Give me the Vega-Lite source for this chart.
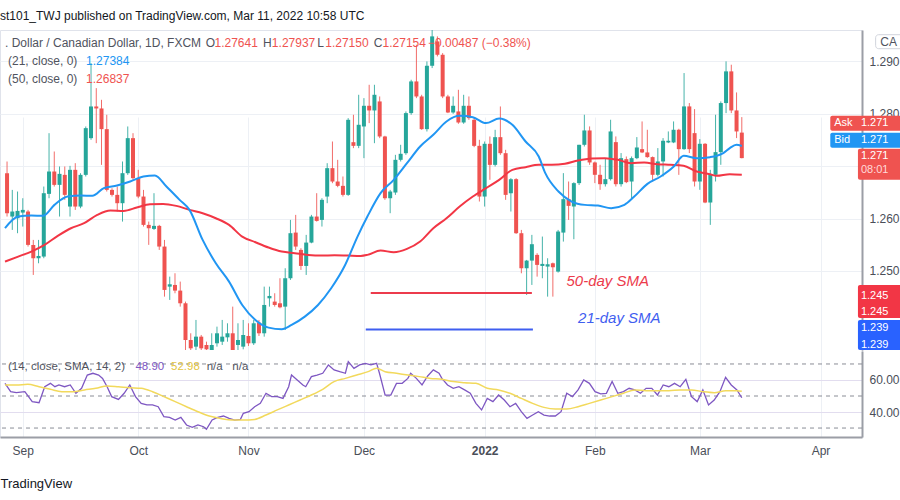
{
"$schema": "https://vega.github.io/schema/vega-lite/v6.json",
"width": 862, "height": 407,
"autosize": {"type": "none"},
"padding": {"left": 0, "top": 30, "right": 38, "bottom": 63},
"background": "white",
"title": {"text": "st101_TWJ published on TradingView.com, Mar 11, 2022 10:58 UTC", "anchor": "start", "frame": "group", "offset": 7, "fontSize": 12, "fontWeight": "normal", "color": "#131722", "font": "Liberation Sans"},
"config": {"font": "Liberation Sans", "view": {"stroke": "#e0e3eb"}},
"datasets": {
"candles": [
{"i":-3,"o":1.26866,"h":1.27089,"l":1.26038,"c":1.26102},
{"i":-2,"o":1.26038,"h":1.26547,"l":1.25783,"c":1.26134},
{"i":-1,"o":1.26006,"h":1.26516,"l":1.2572,"c":1.26146},
{"i":0,"o":1.26114,"h":1.26388,"l":1.25847,"c":1.26165},
{"i":1,"o":1.26134,"h":1.26165,"l":1.25465,"c":1.25497},
{"i":2,"o":1.25497,"h":1.25592,"l":1.24923,"c":1.25242},
{"i":3,"o":1.25242,"h":1.25592,"l":1.25146,"c":1.25286},
{"i":4,"o":1.25274,"h":1.26611,"l":1.25242,"c":1.26484},
{"i":5,"o":1.26471,"h":1.2763,"l":1.26388,"c":1.26898},
{"i":6,"o":1.26898,"h":1.2728,"l":1.26611,"c":1.26643},
{"i":7,"o":1.26643,"h":1.26994,"l":1.26038,"c":1.26853},
{"i":8,"o":1.26834,"h":1.26994,"l":1.26357,"c":1.26452},
{"i":9,"o":1.26229,"h":1.27006,"l":1.26038,"c":1.2693},
{"i":10,"o":1.2693,"h":1.27057,"l":1.26165,"c":1.26229},
{"i":11,"o":1.26229,"h":1.26866,"l":1.26197,"c":1.26834},
{"i":12,"o":1.26834,"h":1.27758,"l":1.26803,"c":1.27726},
{"i":13,"o":1.27535,"h":1.28968,"l":1.27503,"c":1.2814},
{"i":14,"o":1.2814,"h":1.2849,"l":1.27439,"c":1.28102},
{"i":15,"o":1.28102,"h":1.28267,"l":1.27025,"c":1.27707},
{"i":16,"o":1.27707,"h":1.27981,"l":1.26516,"c":1.26547},
{"i":17,"o":1.26547,"h":1.26579,"l":1.2642,"c":1.26452},
{"i":18,"o":1.26452,"h":1.26611,"l":1.26134,"c":1.26293},
{"i":19,"o":1.26293,"h":1.27089,"l":1.25942,"c":1.26866},
{"i":20,"o":1.26866,"h":1.27758,"l":1.26834,"c":1.27535},
{"i":21,"o":1.27535,"h":1.2763,"l":1.26739,"c":1.26771},
{"i":22,"o":1.26771,"h":1.2693,"l":1.26388,"c":1.2642},
{"i":23,"o":1.2642,"h":1.26547,"l":1.25847,"c":1.25879},
{"i":24,"o":1.25879,"h":1.25942,"l":1.25497,"c":1.25815},
{"i":25,"o":1.25802,"h":1.26484,"l":1.25783,"c":1.2586},
{"i":26,"o":1.2586,"h":1.25879,"l":1.25401,"c":1.25465},
{"i":27,"o":1.25465,"h":1.25592,"l":1.24509,"c":1.24637},
{"i":28,"o":1.247,"h":1.24891,"l":1.24446,"c":1.24745},
{"i":29,"o":1.24732,"h":1.24955,"l":1.24573,"c":1.24624},
{"i":30,"o":1.24624,"h":1.24796,"l":1.24318,"c":1.24382},
{"i":31,"o":1.24382,"h":1.24414,"l":1.2349,"c":1.23681},
{"i":32,"o":1.23681,"h":1.23809,"l":1.23427,"c":1.23522},
{"i":33,"o":1.23554,"h":1.24064,"l":1.23458,"c":1.23745},
{"i":34,"o":1.23745,"h":1.23777,"l":1.23395,"c":1.23522},
{"i":35,"o":1.23586,"h":1.23649,"l":1.23363,"c":1.23503},
{"i":36,"o":1.2349,"h":1.23809,"l":1.23331,"c":1.23586},
{"i":37,"o":1.23618,"h":1.23936,"l":1.23554,"c":1.23809},
{"i":38,"o":1.23649,"h":1.24064,"l":1.23586,"c":1.23745},
{"i":39,"o":1.23732,"h":1.24,"l":1.23649,"c":1.23809},
{"i":40,"o":1.23809,"h":1.24318,"l":1.23427,"c":1.2349},
{"i":41,"o":1.23586,"h":1.24,"l":1.23458,"c":1.23681},
{"i":42,"o":1.23554,"h":1.24064,"l":1.23503,"c":1.23777},
{"i":43,"o":1.23758,"h":1.24,"l":1.23567,"c":1.23618},
{"i":44,"o":1.23618,"h":1.24064,"l":1.23586,"c":1.24},
{"i":45,"o":1.24012,"h":1.24064,"l":1.23758,"c":1.23809},
{"i":46,"o":1.23809,"h":1.247,"l":1.23745,"c":1.2435},
{"i":47,"o":1.24477,"h":1.247,"l":1.24318,"c":1.24522},
{"i":48,"o":1.24414,"h":1.24573,"l":1.24318,"c":1.2435},
{"i":49,"o":1.24382,"h":1.2486,"l":1.24286,"c":1.24305},
{"i":50,"o":1.24318,"h":1.25051,"l":1.23872,"c":1.2486},
{"i":51,"o":1.2486,"h":1.25974,"l":1.24828,"c":1.2572},
{"i":52,"o":1.25732,"h":1.2607,"l":1.25401,"c":1.25465},
{"i":53,"o":1.25401,"h":1.25433,"l":1.25019,"c":1.25095},
{"i":54,"o":1.25095,"h":1.25688,"l":1.24923,"c":1.25541},
{"i":55,"o":1.25541,"h":1.2607,"l":1.25528,"c":1.26038},
{"i":56,"o":1.26038,"h":1.26484,"l":1.25942,"c":1.25955},
{"i":57,"o":1.25974,"h":1.26388,"l":1.25847,"c":1.26357},
{"i":58,"o":1.2642,"h":1.27057,"l":1.26293,"c":1.26962},
{"i":59,"o":1.26962,"h":1.27471,"l":1.26675,"c":1.26707},
{"i":60,"o":1.26707,"h":1.27121,"l":1.26598,"c":1.26624},
{"i":61,"o":1.26624,"h":1.26803,"l":1.2642,"c":1.26452},
{"i":62,"o":1.26452,"h":1.27917,"l":1.26433,"c":1.27885},
{"i":63,"o":1.27458,"h":1.27981,"l":1.27344,"c":1.27388},
{"i":64,"o":1.27388,"h":1.28363,"l":1.27344,"c":1.2779},
{"i":65,"o":1.27758,"h":1.28299,"l":1.27153,"c":1.28153},
{"i":66,"o":1.28153,"h":1.28554,"l":1.27822,"c":1.28064},
{"i":67,"o":1.28064,"h":1.28554,"l":1.27439,"c":1.28363},
{"i":68,"o":1.28236,"h":1.28331,"l":1.27535,"c":1.27567},
{"i":69,"o":1.27567,"h":1.2758,"l":1.26357,"c":1.26388},
{"i":70,"o":1.26388,"h":1.26547,"l":1.26102,"c":1.26516},
{"i":71,"o":1.26497,"h":1.27216,"l":1.26452,"c":1.27121},
{"i":72,"o":1.27121,"h":1.27408,"l":1.27089,"c":1.27236},
{"i":73,"o":1.27248,"h":1.28045,"l":1.27216,"c":1.28013},
{"i":74,"o":1.28013,"h":1.2865,"l":1.27981,"c":1.28618},
{"i":75,"o":1.28618,"h":1.29318,"l":1.28299,"c":1.28331},
{"i":76,"o":1.28331,"h":1.28363,"l":1.27694,"c":1.27707},
{"i":77,"o":1.27707,"h":1.29,"l":1.27662,"c":1.28917},
{"i":78,"o":1.28917,"h":1.29605,"l":1.28873,"c":1.29478},
{"i":79,"o":1.29382,"h":1.29478,"l":1.29096,"c":1.29127},
{"i":80,"o":1.29127,"h":1.29159,"l":1.28299,"c":1.28331},
{"i":81,"o":1.28331,"h":1.28363,"l":1.28013,"c":1.28025},
{"i":82,"o":1.28025,"h":1.28331,"l":1.28,"c":1.28153},
{"i":83,"o":1.28045,"h":1.28458,"l":1.27809,"c":1.27834},
{"i":84,"o":1.27834,"h":1.28363,"l":1.27809,"c":1.28153},
{"i":85,"o":1.28153,"h":1.28331,"l":1.27885,"c":1.27917},
{"i":86,"o":1.27885,"h":1.27917,"l":1.27363,"c":1.27388},
{"i":87,"o":1.27388,"h":1.27503,"l":1.26325,"c":1.2642},
{"i":88,"o":1.2642,"h":1.27471,"l":1.26229,"c":1.27427},
{"i":89,"o":1.27427,"h":1.27567,"l":1.26739,"c":1.27025},
{"i":90,"o":1.27025,"h":1.27694,"l":1.26994,"c":1.27554},
{"i":91,"o":1.27554,"h":1.2814,"l":1.27216,"c":1.27248},
{"i":92,"o":1.27248,"h":1.27312,"l":1.26357,"c":1.26452},
{"i":93,"o":1.26484,"h":1.26771,"l":1.26134,"c":1.26752},
{"i":94,"o":1.26752,"h":1.26771,"l":1.25707,"c":1.2572},
{"i":95,"o":1.2572,"h":1.25783,"l":1.24955,"c":1.25051},
{"i":96,"o":1.25051,"h":1.2521,"l":1.24541,"c":1.25197},
{"i":97,"o":1.25197,"h":1.25688,"l":1.24732,"c":1.2551},
{"i":98,"o":1.25306,"h":1.25338,"l":1.24891,"c":1.25115},
{"i":99,"o":1.25095,"h":1.25656,"l":1.2486,"c":1.25134},
{"i":100,"o":1.25083,"h":1.25242,"l":1.24509,"c":1.25127},
{"i":101,"o":1.25146,"h":1.25159,"l":1.24509,"c":1.2507},
{"i":102,"o":1.24987,"h":1.25783,"l":1.24968,"c":1.25752},
{"i":103,"o":1.25732,"h":1.26867,"l":1.2556,"c":1.2637},
{"i":104,"o":1.2637,"h":1.26707,"l":1.25974,"c":1.26242},
{"i":105,"o":1.2623,"h":1.26693,"l":1.25605,"c":1.26676},
{"i":106,"o":1.26676,"h":1.27408,"l":1.2664,"c":1.27408},
{"i":107,"o":1.27408,"h":1.27982,"l":1.27376,"c":1.27682},
{"i":108,"o":1.27682,"h":1.27759,"l":1.27025,"c":1.27071},
{"i":109,"o":1.27071,"h":1.27089,"l":1.26676,"c":1.26835},
{"i":110,"o":1.26835,"h":1.27026,"l":1.26548,"c":1.26656},
{"i":111,"o":1.26656,"h":1.27153,"l":1.26611,"c":1.26752},
{"i":112,"o":1.26752,"h":1.27886,"l":1.26726,"c":1.27663},
{"i":113,"o":1.27459,"h":1.27568,"l":1.26612,"c":1.26656},
{"i":114,"o":1.26656,"h":1.2725,"l":1.2661,"c":1.27153},
{"i":115,"o":1.27134,"h":1.27185,"l":1.26676,"c":1.26695},
{"i":116,"o":1.26707,"h":1.27185,"l":1.26389,"c":1.27153},
{"i":117,"o":1.27153,"h":1.27555,"l":1.27134,"c":1.27357},
{"i":118,"o":1.27325,"h":1.27854,"l":1.2725,"c":1.27262},
{"i":119,"o":1.27262,"h":1.27695,"l":1.2716,"c":1.27173},
{"i":120,"o":1.27173,"h":1.27185,"l":1.26707,"c":1.26835},
{"i":121,"o":1.26835,"h":1.27345,"l":1.26803,"c":1.2709},
{"i":122,"o":1.2709,"h":1.27536,"l":1.26803,"c":1.27485},
{"i":123,"o":1.27453,"h":1.27663,"l":1.2744,"c":1.27485},
{"i":124,"o":1.27453,"h":1.27854,"l":1.2744,"c":1.27695},
{"i":125,"o":1.27695,"h":1.27714,"l":1.26834,"c":1.27325},
{"i":126,"o":1.27325,"h":1.28778,"l":1.27312,"c":1.28141},
{"i":127,"o":1.28141,"h":1.28205,"l":1.2725,"c":1.27325},
{"i":128,"o":1.27631,"h":1.2809,"l":1.26612,"c":1.26707},
{"i":129,"o":1.26707,"h":1.27517,"l":1.26548,"c":1.27427},
{"i":130,"o":1.27427,"h":1.2744,"l":1.26293,"c":1.26306},
{"i":131,"o":1.26306,"h":1.2693,"l":1.25879,"c":1.26835},
{"i":132,"o":1.26835,"h":1.27982,"l":1.26707,"c":1.27268},
{"i":133,"o":1.27268,"h":1.28236,"l":1.27026,"c":1.28205},
{"i":134,"o":1.28205,"h":1.29001,"l":1.28013,"c":1.2881},
{"i":135,"o":1.2881,"h":1.28937,"l":1.28013,"c":1.28064},
{"i":136,"o":1.28064,"h":1.28408,"l":1.27536,"c":1.27663},
{"i":137,"o":1.27641,"h":1.27937,"l":1.2715,"c":1.27154}
],
"sma21": [
{"i":-3.39,"v":1.25815},{"i":-0.88,"v":1.26038},{"i":1.63,"v":1.26057},{"i":3.83,"v":1.26051},{"i":6.03,"v":1.26261},{"i":8.54,"v":1.2642},{"i":11.05,"v":1.26439},{"i":13.25,"v":1.26433},{"i":15.44,"v":1.2658},{"i":17.95,"v":1.26631},{"i":20.46,"v":1.26707},{"i":22.98,"v":1.26803},{"i":25.17,"v":1.26822},{"i":27.37,"v":1.26611},{"i":29.88,"v":1.26357},{"i":31.76,"v":1.26166},{"i":34.27,"v":1.25592},{"i":36.78,"v":1.25146},{"i":39.3,"v":1.24796},{"i":41.81,"v":1.2435},{"i":44.32,"v":1.24064},{"i":46.83,"v":1.23917},{"i":49.34,"v":1.23885},{"i":51.22,"v":1.23968},{"i":53.73,"v":1.24127},{"i":56.25,"v":1.2435},{"i":58.76,"v":1.24669},{"i":61.27,"v":1.25083},{"i":63.78,"v":1.25656},{"i":65.66,"v":1.26038},{"i":68.17,"v":1.26484},{"i":70.68,"v":1.26739},{"i":73.2,"v":1.27057},{"i":75.71,"v":1.27376},{"i":78.22,"v":1.27599},{"i":80.73,"v":1.27854},{"i":83.24,"v":1.27962},{"i":85.75,"v":1.27936},{"i":88.26,"v":1.27822},{"i":90.77,"v":1.27911},{"i":93.28,"v":1.2779},{"i":95.8,"v":1.27471},{"i":98.31,"v":1.27185},{"i":99.56,"v":1.26866},{"i":102.07,"v":1.26516},{"i":104.58,"v":1.26325},{"i":107.09,"v":1.26261},{"i":109.6,"v":1.26248},{"i":112.11,"v":1.26197},{"i":114.63,"v":1.26261},{"i":116.51,"v":1.2642},{"i":119.02,"v":1.26662},{"i":121.53,"v":1.26803},{"i":124.04,"v":1.26994},{"i":125.93,"v":1.27197},{"i":128.44,"v":1.27153},{"i":130.94,"v":1.27172},{"i":132.2,"v":1.27197},{"i":133.46,"v":1.27248},{"i":134.71,"v":1.27344},{"i":135.97,"v":1.27408},{"i":137,"v":1.27384}
],
"sma50": [
{"i":-3.39,"v":1.25178},{"i":-0.88,"v":1.25274},{"i":1.63,"v":1.25369},{"i":4.14,"v":1.25497},{"i":6.66,"v":1.25669},{"i":9.17,"v":1.25815},{"i":11.68,"v":1.25911},{"i":14.19,"v":1.2607},{"i":16.7,"v":1.26153},{"i":19.21,"v":1.26146},{"i":21.72,"v":1.2621},{"i":24.23,"v":1.26274},{"i":26.74,"v":1.2628},{"i":29.25,"v":1.26242},{"i":31.76,"v":1.26166},{"i":34.27,"v":1.26102},{"i":36.78,"v":1.26006},{"i":39.3,"v":1.25879},{"i":41.81,"v":1.25656},{"i":44.32,"v":1.25548},{"i":46.83,"v":1.25446},{"i":49.34,"v":1.25369},{"i":51.85,"v":1.25338},{"i":54.36,"v":1.25306},{"i":56.87,"v":1.25293},{"i":59.39,"v":1.25299},{"i":61.9,"v":1.25293},{"i":64.41,"v":1.25287},{"i":65.66,"v":1.25306},{"i":68.17,"v":1.25389},{"i":70.68,"v":1.25357},{"i":73.2,"v":1.2542},{"i":75.71,"v":1.25561},{"i":78.22,"v":1.25815},{"i":80.73,"v":1.26006},{"i":83.24,"v":1.26229},{"i":85.75,"v":1.2642},{"i":88.26,"v":1.2658},{"i":90.77,"v":1.26739},{"i":93.28,"v":1.2693},{"i":95.8,"v":1.26981},{"i":98.31,"v":1.27025},{"i":100.8,"v":1.27025},{"i":103.3,"v":1.27045},{"i":105.8,"v":1.27108},{"i":108.4,"v":1.27146},{"i":110.9,"v":1.27153},{"i":113.4,"v":1.27121},{"i":115.9,"v":1.27057},{"i":118.4,"v":1.2707},{"i":120.9,"v":1.27038},{"i":123.4,"v":1.27025},{"i":125.9,"v":1.27006},{"i":128.4,"v":1.26898},{"i":130.9,"v":1.26847},{"i":132.2,"v":1.26815},{"i":134.7,"v":1.26847},{"i":137,"v":1.26837}
],
"rsi": [
{"i":-3.39,"v":57.9},{"i":-2.31,"v":52.7},{"i":-1.23,"v":52.1},{"i":0.39,"v":52.7},{"i":1.8,"v":46.5},{"i":3.1,"v":45.8},{"i":4.18,"v":55.8},{"i":5.26,"v":57.9},{"i":6.12,"v":55.8},{"i":6.88,"v":56.9},{"i":7.96,"v":55.8},{"i":9.04,"v":56.9},{"i":10.12,"v":51.7},{"i":11.2,"v":54.8},{"i":12.29,"v":63.1},{"i":13.37,"v":64.2},{"i":14.45,"v":63.1},{"i":15.2,"v":61.0},{"i":16.07,"v":55.8},{"i":16.93,"v":49.6},{"i":18.23,"v":47.9},{"i":19.31,"v":51.7},{"i":20.39,"v":56.9},{"i":21.47,"v":49.6},{"i":22.56,"v":45.4},{"i":23.64,"v":44.4},{"i":24.72,"v":44.4},{"i":25.8,"v":43.3},{"i":26.88,"v":37.1},{"i":27.96,"v":36.7},{"i":29.04,"v":35.0},{"i":30.12,"v":36.7},{"i":31.2,"v":31.9},{"i":32.29,"v":30.4},{"i":33.37,"v":31.9},{"i":34.45,"v":30.8},{"i":34.99,"v":29.2},{"i":36.07,"v":35.0},{"i":37.15,"v":36.7},{"i":38.23,"v":37.5},{"i":39.31,"v":36.0},{"i":40.39,"v":35.0},{"i":41.47,"v":35.4},{"i":42.02,"v":39.2},{"i":43.1,"v":40.2},{"i":44.18,"v":43.3},{"i":45.26,"v":45.4},{"i":46.34,"v":51.7},{"i":47.42,"v":49.6},{"i":48.5,"v":49.6},{"i":49.58,"v":48.5},{"i":50.66,"v":55.8},{"i":51.2,"v":63.1},{"i":52.29,"v":60.0},{"i":53.37,"v":56.9},{"i":53.91,"v":55.8},{"i":54.99,"v":62.1},{"i":56.07,"v":63.1},{"i":57.15,"v":64.2},{"i":58.23,"v":69.4},{"i":59.31,"v":66.3},{"i":60.39,"v":65.2},{"i":61.47,"v":64.2},{"i":62.02,"v":71.5},{"i":63.1,"v":67.3},{"i":64.18,"v":69.4},{"i":65.26,"v":70.4},{"i":66.34,"v":69.4},{"i":67.42,"v":70.4},{"i":67.96,"v":64.2},{"i":69.04,"v":50.6},{"i":70.12,"v":50.6},{"i":71.2,"v":57.9},{"i":72.29,"v":57.9},{"i":73.37,"v":61.0},{"i":73.91,"v":64.2},{"i":74.99,"v":61.0},{"i":76.07,"v":56.9},{"i":77.15,"v":62.5},{"i":78.23,"v":66.3},{"i":79.31,"v":64.2},{"i":79.85,"v":61.0},{"i":80.93,"v":56.9},{"i":82.02,"v":54.8},{"i":83.1,"v":55.8},{"i":84.18,"v":53.8},{"i":85.26,"v":51.7},{"i":86.34,"v":45.4},{"i":87.42,"v":41.3},{"i":88.5,"v":48.5},{"i":89.58,"v":46.5},{"i":90.66,"v":50.6},{"i":91.74,"v":47.5},{"i":92.83,"v":43.3},{"i":93.91,"v":45.4},{"i":94.99,"v":40.2},{"i":96.07,"v":36.0},{"i":97.15,"v":38.1},{"i":98.23,"v":40.2},{"i":99.31,"v":38.1},{"i":100.39,"v":37.5},{"i":101.47,"v":37.5},{"i":102.56,"v":40.2},{"i":103.64,"v":51.7},{"i":104.72,"v":49.6},{"i":105.8,"v":53.8},{"i":106.88,"v":60.0},{"i":107.96,"v":57.9},{"i":109.04,"v":52.7},{"i":110.12,"v":51.3},{"i":111.2,"v":51.7},{"i":112.29,"v":59.0},{"i":113.37,"v":51.7},{"i":114.45,"v":52.7},{"i":115.53,"v":54.8},{"i":116.61,"v":53.8},{"i":117.69,"v":51.7},{"i":118.77,"v":54.8},{"i":119.85,"v":54.8},{"i":120.93,"v":50.6},{"i":122.02,"v":56.9},{"i":123.1,"v":55.8},{"i":124.18,"v":57.9},{"i":125.26,"v":55.8},{"i":126.34,"v":60.4},{"i":127.42,"v":49.6},{"i":128.5,"v":46.5},{"i":129.58,"v":53.8},{"i":130.66,"v":44.4},{"i":131.74,"v":47.5},{"i":132.83,"v":52.7},{"i":133.91,"v":61.7},{"i":134.99,"v":56.9},{"i":136.07,"v":53.8},{"i":137,"v":48.9}
],
"rsima": [
{"i":-3.39,"v":56.9},{"i":-1.23,"v":56.9},{"i":0.93,"v":57.3},{"i":3.1,"v":55.8},{"i":5.26,"v":54.2},{"i":7.42,"v":52.7},{"i":9.58,"v":52.7},{"i":11.75,"v":53.8},{"i":13.91,"v":54.8},{"i":16.07,"v":56.3},{"i":18.23,"v":55.8},{"i":20.39,"v":55.2},{"i":22.56,"v":54.8},{"i":24.72,"v":52.7},{"i":26.88,"v":49.6},{"i":29.04,"v":46.5},{"i":31.2,"v":43.3},{"i":33.37,"v":40.2},{"i":35.53,"v":37.5},{"i":37.69,"v":36.0},{"i":39.85,"v":35.0},{"i":42.02,"v":35.0},{"i":44.18,"v":35.4},{"i":46.34,"v":38.1},{"i":48.5,"v":41.3},{"i":50.66,"v":44.4},{"i":52.83,"v":47.5},{"i":54.99,"v":50.6},{"i":57.15,"v":54.2},{"i":59.31,"v":59.0},{"i":61.47,"v":61.0},{"i":63.64,"v":63.1},{"i":65.8,"v":65.2},{"i":67.42,"v":67.3},{"i":69.04,"v":65.2},{"i":71.2,"v":64.2},{"i":73.37,"v":63.1},{"i":75.53,"v":62.1},{"i":77.69,"v":61.0},{"i":79.85,"v":60.4},{"i":82.02,"v":59.0},{"i":84.18,"v":58.3},{"i":86.34,"v":57.9},{"i":88.5,"v":54.8},{"i":90.66,"v":53.8},{"i":92.83,"v":51.7},{"i":94.99,"v":48.5},{"i":97.15,"v":45.4},{"i":99.31,"v":42.9},{"i":101.47,"v":41.9},{"i":103.64,"v":41.9},{"i":105.8,"v":43.3},{"i":107.96,"v":45.4},{"i":110.12,"v":47.5},{"i":112.29,"v":49.6},{"i":114.45,"v":51.7},{"i":116.61,"v":53.8},{"i":118.77,"v":53.3},{"i":120.93,"v":53.3},{"i":123.1,"v":53.3},{"i":125.26,"v":53.8},{"i":127.42,"v":53.8},{"i":129.58,"v":52.7},{"i":131.74,"v":52.1},{"i":133.91,"v":53.3},{"i":136.07,"v":53.3},{"i":137,"v":52.98}
],
"annoLines": [
{"i":66.3,"i2":97.0,"p":1.24579,"k":"rl"},
{"i":65.35,"i2":97.2,"p":1.23881,"k":"bl"}
],
"annoText": [
{"i":103.6,"p":1.24809,"t":"50-day SMA","k":"rl"},
{"i":105.8,"p":1.24096,"t":"21-day SMA","k":"bl"}
],
"legend": [
{"i":-3.39,"p":1.29357,"t":". Dollar / Canadian Dollar, 1D, FXCM","k":"g"},
{"i":34.84,"p":1.29357,"t":"O","k":"g"},
{"i":36.53,"p":1.29357,"t":"1.27641","k":"r"},
{"i":45.76,"p":1.29357,"t":"H","k":"g"},
{"i":47.46,"p":1.29357,"t":"1.27937","k":"r"},
{"i":56.12,"p":1.29357,"t":"L","k":"g"},
{"i":57.63,"p":1.29357,"t":"1.27150","k":"r"},
{"i":66.85,"p":1.29357,"t":"C","k":"g"},
{"i":68.55,"p":1.29357,"t":"1.27154","k":"r"},
{"i":77.21,"p":1.29357,"t":"−0.00487 (−0.38%)","k":"r"},
{"i":-2.82,"p":1.29013,"t":"(21, close, 0)","k":"g"},
{"i":12.05,"p":1.29013,"t":"1.27384","k":"b"},
{"i":-2.82,"p":1.28669,"t":"(50, close, 0)","k":"g"},
{"i":12.05,"p":1.28669,"t":"1.26837","k":"r"}
],
"tags": [
{"i":153.86,"i2":168,"p":1.27965,"p2":1.27676,"k":"r"},
{"i":153.86,"i2":168,"p":1.27637,"p2":1.27351,"k":"b"},
{"i":159.13,"i2":168,"p":1.27331,"p2":1.26739,"k":"r"},
{"i":159.13,"i2":168,"p":1.24733,"p2":1.24102,"k":"r2"},
{"i":159.13,"i2":168,"p":1.24064,"p2":1.2349,"k":"b2"}
],
"tagText": [
{"i":154.6,"p":1.2782,"t":"Ask","k":"w"},
{"i":159.7,"p":1.2782,"t":"1.271","k":"w"},
{"i":154.6,"p":1.27494,"t":"Bid","k":"w"},
{"i":159.7,"p":1.27494,"t":"1.271","k":"w"},
{"i":159.7,"p":1.27195,"t":"1.271","k":"w"},
{"i":159.7,"p":1.26925,"t":"08:01","k":"p"},
{"i":159.7,"p":1.24528,"t":"1.245","k":"w"},
{"i":159.7,"p":1.24222,"t":"1.245","k":"w"},
{"i":159.7,"p":1.2391,"t":"1.239","k":"w"},
{"i":159.7,"p":1.23585,"t":"1.239","k":"w"}
],
"caBox": [{"i":162.5,"i2":168,"p":1.2951,"p2":1.29243}],
"caText": [{"i":163.4,"p":1.29377,"t":"CA"}],
"levels": [{"r":70},{"r":50},{"r":30}],
"rsiLegend": [
{"i":-2.82,"r":68.1,"t":"(14, close, SMA, 14, 2)","k":"g"},
{"i":21.47,"r":68.1,"t":"48.90","k":"pu"},
{"i":28.25,"r":68.1,"t":"52.98","k":"y"},
{"i":35.03,"r":68.1,"t":"n/a","k":"g"},
{"i":39.92,"r":68.1,"t":"n/a","k":"g"}
]
},
"layer": [
{"data": {"name": "candles"}, "mark": {"type": "rule", "strokeWidth": 1, "opacity": 0.85},
 "encoding": {
  "x": {"field": "i", "type": "quantitative", "scale": {"domain": [-3.39, 158.95], "nice": false, "zero": false},
   "axis": {"orient": "bottom", "values": [0, 22, 43, 65, 88, 109, 129, 152],
    "labelExpr": "datum.value == 0 ? 'Sep' : datum.value == 22 ? 'Oct' : datum.value == 43 ? 'Nov' : datum.value == 65 ? 'Dec' : datum.value == 88 ? '2022' : datum.value == 109 ? 'Feb' : datum.value == 129 ? 'Mar' : 'Apr'",
    "labelFontWeight": {"condition": {"test": "datum.value == 88", "value": "bold"}, "value": "normal"},
    "grid": true, "gridColor": "#edf0f5", "ticks": false, "domain": true, "domainColor": "#9b9ea6", "domainWidth": 2,
    "labelColor": "#4a4e58", "labelFontSize": 12, "labelPadding": 8, "labelFont": "Liberation Sans",
    "title": "TradingView", "titleAnchor": "start", "titleAlign": "left", "titleX": 0, "titleY": 46, "titleBaseline": "middle",
    "titleFontSize": 13, "titleFontWeight": "normal", "titleColor": "#131722", "titleFont": "Liberation Sans"}},
  "y": {"field": "l", "type": "quantitative", "scale": {"domain": [1.2349, 1.296], "range": [320, 0], "nice": false, "zero": false, "clamp": true},
   "axis": {"orient": "right", "values": [1.25, 1.26, 1.27, 1.28, 1.29], "format": ".3f",
    "labelExpr": "datum.value == 1.27 ? '' : format(datum.value, '.3f')",
    "grid": true, "gridColor": "#edf0f5",
    "ticks": false, "domain": true, "domainColor": "#9b9ea6", "domainWidth": 2, "labelColor": "#4a4e58", "labelFontSize": 12,
    "labelPadding": 7, "labelFont": "Liberation Sans", "title": null}},
  "y2": {"field": "h"},
  "color": {"condition": {"test": "datum.c >= datum.o", "value": "#26a69a"}, "value": "#ef5350"}
 }},
{"mark": {"type": "rect", "color": "#7e57c2", "opacity": 0.1},
 "encoding": {
  "x": {"datum": -3.39, "type": "quantitative", "scale": {"domain": [-3.39, 158.95], "nice": false, "zero": false}},
  "x2": {"datum": 158.95},
  "y": {"datum": 30, "type": "quantitative", "scale": {"domain": [24.4, 78.1], "range": [407, 321], "nice": false, "zero": false}, "axis": null},
  "y2": {"datum": 70}
 }},
{"data": {"name": "levels"}, "mark": {"type": "rule", "color": "#8a8d96", "strokeWidth": 1, "strokeDash": [4, 4]},
 "encoding": {
  "y": {"field": "r", "type": "quantitative", "scale": {"domain": [24.4, 78.1], "range": [407, 321], "nice": false, "zero": false},
   "axis": {"orient": "right", "values": [40, 60], "format": ".2f", "grid": true, "gridColor": "#e2ddef", "ticks": false, "domain": true,
    "domainColor": "#9b9ea6", "domainWidth": 2, "labelColor": "#4a4e58", "labelFontSize": 12, "labelPadding": 7, "labelFont": "Liberation Sans", "title": null}}
 }},
{"mark": {"type": "rule", "color": "#9b9ea6", "strokeWidth": 2},
 "encoding": {
  "y": {"datum": 78.1, "type": "quantitative", "scale": {"domain": [24.4, 78.1], "range": [407, 321], "nice": false, "zero": false}, "axis": null}
 }},
{"mark": {"type": "rule", "color": "#e0e3eb", "strokeWidth": 1},
 "encoding": {
  "x": {"datum": -3.39, "type": "quantitative", "scale": {"domain": [-3.39, 158.95], "nice": false, "zero": false}},
  "x2": {"datum": 168},
  "y": {"datum": 8.16, "type": "quantitative", "scale": {"domain": [24.4, 78.1], "range": [407, 321], "nice": false, "zero": false}, "axis": null}
 }},
{"mark": {"type": "rule", "color": "#9b9ea6", "strokeWidth": 2},
 "encoding": {
  "x": {"datum": 158.95, "type": "quantitative", "scale": {"domain": [-3.39, 158.95], "nice": false, "zero": false}},
  "y": {"datum": 24.4, "type": "quantitative", "scale": {"domain": [24.4, 78.1], "range": [407, 321], "nice": false, "zero": false}, "axis": null},
  "y2": {"datum": 8.16}
 }},
{"data": {"name": "rsi"}, "mark": {"type": "line", "color": "#7e57c2", "strokeWidth": 1.3},
 "encoding": {
  "x": {"field": "i", "type": "quantitative", "scale": {"domain": [-3.39, 158.95], "nice": false, "zero": false}},
  "y": {"field": "v", "type": "quantitative", "scale": {"domain": [24.4, 78.1], "range": [407, 321], "nice": false, "zero": false}, "axis": null}
 }},
{"data": {"name": "rsima"}, "mark": {"type": "line", "color": "#f2d95c", "strokeWidth": 1.5, "interpolate": "monotone"},
 "encoding": {
  "x": {"field": "i", "type": "quantitative", "scale": {"domain": [-3.39, 158.95], "nice": false, "zero": false}},
  "y": {"field": "v", "type": "quantitative", "scale": {"domain": [24.4, 78.1], "range": [407, 321], "nice": false, "zero": false}, "axis": null}
 }},
{"data": {"name": "rsiLegend"}, "mark": {"type": "text", "align": "left", "baseline": "middle", "fontSize": 11.5, "font": "Liberation Sans"},
 "encoding": {
  "x": {"field": "i", "type": "quantitative", "scale": {"domain": [-3.39, 158.95], "nice": false, "zero": false}},
  "y": {"field": "r", "type": "quantitative", "scale": {"domain": [24.4, 78.1], "range": [407, 321], "nice": false, "zero": false}, "axis": null},
  "text": {"field": "t"},
  "color": {"field": "k", "type": "nominal", "legend": null, "scale": {"domain": ["g","r","b","w","p","pu","y","r2","b2","rl","bl"], "range": ["#50535e","#ef5350","#2196f3","#ffffff","#ffd9d9","#7e57c2","#e3c440","#f23645","#2962ff","#ec3b4c","#3f5ef0"]}}
 }},
{"data": {"name": "candles"}, "mark": {"type": "bar", "size": 4, "orient": "vertical"},
 "encoding": {
  "x": {"field": "i", "type": "quantitative", "scale": {"domain": [-3.39, 158.95], "nice": false, "zero": false}},
  "y": {"field": "o", "type": "quantitative", "scale": {"domain": [1.2349, 1.296], "range": [320, 0], "nice": false, "zero": false, "clamp": true}, "axis": null},
  "y2": {"field": "c"},
  "color": {"condition": {"test": "datum.c >= datum.o", "value": "#26a69a"}, "value": "#ef5350"}
 }},
{"data": {"name": "sma50"}, "mark": {"type": "line", "color": "#f23645", "strokeWidth": 2, "interpolate": "monotone"},
 "encoding": {
  "x": {"field": "i", "type": "quantitative", "scale": {"domain": [-3.39, 158.95], "nice": false, "zero": false}},
  "y": {"field": "v", "type": "quantitative", "scale": {"domain": [1.2349, 1.296], "range": [320, 0], "nice": false, "zero": false, "clamp": true}, "axis": null}
 }},
{"data": {"name": "sma21"}, "mark": {"type": "line", "color": "#2196f3", "strokeWidth": 2, "interpolate": "monotone"},
 "encoding": {
  "x": {"field": "i", "type": "quantitative", "scale": {"domain": [-3.39, 158.95], "nice": false, "zero": false}},
  "y": {"field": "v", "type": "quantitative", "scale": {"domain": [1.2349, 1.296], "range": [320, 0], "nice": false, "zero": false, "clamp": true}, "axis": null}
 }},
{"mark": {"type": "rule", "color": "#f23645", "strokeWidth": 1, "strokeDash": [1, 2]},
 "encoding": {
  "y": {"datum": 1.27154, "type": "quantitative", "scale": {"domain": [1.2349, 1.296], "range": [320, 0], "nice": false, "zero": false, "clamp": true}, "axis": null}
 }},
{"data": {"name": "annoLines"}, "mark": {"type": "rule", "strokeWidth": 2},
 "encoding": {
  "x": {"field": "i", "type": "quantitative", "scale": {"domain": [-3.39, 158.95], "nice": false, "zero": false}},
  "x2": {"field": "i2"},
  "y": {"field": "p", "type": "quantitative", "scale": {"domain": [1.2349, 1.296], "range": [320, 0], "nice": false, "zero": false, "clamp": true}, "axis": null},
  "color": {"field": "k", "type": "nominal", "legend": null, "scale": {"domain": ["g","r","b","w","p","pu","y","r2","b2","rl","bl"], "range": ["#50535e","#ef5350","#2196f3","#ffffff","#ffd9d9","#7e57c2","#e3c440","#f23645","#2962ff","#ec3b4c","#3f5ef0"]}}
 }},
{"data": {"name": "annoText"}, "mark": {"type": "text", "align": "left", "baseline": "middle", "fontSize": 15, "fontStyle": "italic", "font": "Liberation Sans"},
 "encoding": {
  "x": {"field": "i", "type": "quantitative", "scale": {"domain": [-3.39, 158.95], "nice": false, "zero": false}},
  "y": {"field": "p", "type": "quantitative", "scale": {"domain": [1.2349, 1.296], "range": [320, 0], "nice": false, "zero": false, "clamp": true}, "axis": null},
  "text": {"field": "t"},
  "color": {"field": "k", "type": "nominal", "legend": null, "scale": {"domain": ["g","r","b","w","p","pu","y","r2","b2","rl","bl"], "range": ["#50535e","#ef5350","#2196f3","#ffffff","#ffd9d9","#7e57c2","#e3c440","#f23645","#2962ff","#ec3b4c","#3f5ef0"]}}
 }},
{"data": {"name": "legend"}, "mark": {"type": "text", "align": "left", "baseline": "middle", "fontSize": 12, "font": "Liberation Sans"},
 "encoding": {
  "x": {"field": "i", "type": "quantitative", "scale": {"domain": [-3.39, 158.95], "nice": false, "zero": false}},
  "y": {"field": "p", "type": "quantitative", "scale": {"domain": [1.2349, 1.296], "range": [320, 0], "nice": false, "zero": false, "clamp": true}, "axis": null},
  "text": {"field": "t"},
  "color": {"field": "k", "type": "nominal", "legend": null, "scale": {"domain": ["g","r","b","w","p","pu","y","r2","b2","rl","bl"], "range": ["#50535e","#ef5350","#2196f3","#ffffff","#ffd9d9","#7e57c2","#e3c440","#f23645","#2962ff","#ec3b4c","#3f5ef0"]}}
 }},
{"data": {"name": "tags"}, "mark": {"type": "rect", "cornerRadius": 2},
 "encoding": {
  "x": {"field": "i", "type": "quantitative", "scale": {"domain": [-3.39, 158.95], "nice": false, "zero": false}},
  "x2": {"field": "i2"},
  "y": {"field": "p", "type": "quantitative", "scale": {"domain": [1.2349, 1.296], "range": [320, 0], "nice": false, "zero": false, "clamp": true}, "axis": null},
  "y2": {"field": "p2"},
  "color": {"field": "k", "type": "nominal", "legend": null, "scale": {"domain": ["g","r","b","w","p","pu","y","r2","b2","rl","bl"], "range": ["#50535e","#ef5350","#2196f3","#ffffff","#ffd9d9","#7e57c2","#e3c440","#f23645","#2962ff","#ec3b4c","#3f5ef0"]}}
 }},
{"data": {"name": "tagText"}, "mark": {"type": "text", "align": "left", "baseline": "middle", "fontSize": 11, "font": "Liberation Sans"},
 "encoding": {
  "x": {"field": "i", "type": "quantitative", "scale": {"domain": [-3.39, 158.95], "nice": false, "zero": false}},
  "y": {"field": "p", "type": "quantitative", "scale": {"domain": [1.2349, 1.296], "range": [320, 0], "nice": false, "zero": false, "clamp": true}, "axis": null},
  "text": {"field": "t"},
  "color": {"field": "k", "type": "nominal", "legend": null, "scale": {"domain": ["g","r","b","w","p","pu","y","r2","b2","rl","bl"], "range": ["#50535e","#ef5350","#2196f3","#ffffff","#ffd9d9","#7e57c2","#e3c440","#f23645","#2962ff","#ec3b4c","#3f5ef0"]}}
 }},
{"data": {"name": "caBox"}, "mark": {"type": "rect", "fill": "#ffffff", "stroke": "#d1d4dc", "strokeWidth": 1, "cornerRadius": 3},
 "encoding": {
  "x": {"field": "i", "type": "quantitative", "scale": {"domain": [-3.39, 158.95], "nice": false, "zero": false}},
  "x2": {"field": "i2"},
  "y": {"field": "p", "type": "quantitative", "scale": {"domain": [1.2349, 1.296], "range": [320, 0], "nice": false, "zero": false, "clamp": true}, "axis": null},
  "y2": {"field": "p2"}
 }},
{"data": {"name": "caText"}, "mark": {"type": "text", "align": "left", "baseline": "middle", "fontSize": 12, "font": "Liberation Sans", "color": "#50535e"},
 "encoding": {
  "x": {"field": "i", "type": "quantitative", "scale": {"domain": [-3.39, 158.95], "nice": false, "zero": false}},
  "y": {"field": "p", "type": "quantitative", "scale": {"domain": [1.2349, 1.296], "range": [320, 0], "nice": false, "zero": false, "clamp": true}, "axis": null},
  "text": {"field": "t"}
 }}
],
"resolve": {"scale": {"y": "independent"}, "axis": {"y": "independent"}}
}
